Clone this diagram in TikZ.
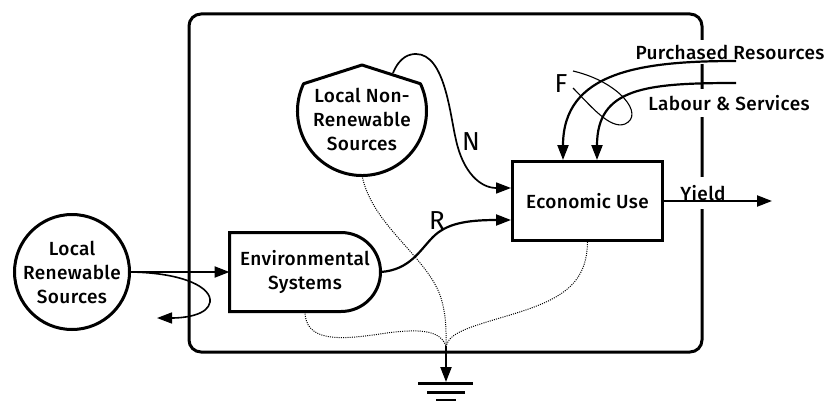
\documentclass[tikz,border=0pt]{standalone}
\usepackage{fontspec}
\setmainfont{Fira Sans Medium}[LetterSpace=2]
\newfontfamily\labelfont{Fira Sans}
\usetikzlibrary{arrows.meta,calc}
\begin{document}
\begin{tikzpicture}[x=1pt,y=-1pt,
  lbl/.style={font=\fontsize{19}{24}\selectfont, inner sep=0pt, align=center},
  big/.style={font=\labelfont\fontsize{26}{30}\selectfont, inner sep=0pt},
  boxline/.style={draw, line width=3pt},
  flow/.style={line width=2.2pt, -{Triangle[length=15pt,width=11pt]}},
  thinflow/.style={line width=1.7pt, -{Triangle[length=15pt,width=11pt]}},
  loopline/.style={line width=1.6pt, -{Triangle[length=15pt,width=11pt]}},
  heat/.style={line width=1pt, dash pattern=on 1pt off 1.2pt},
  cover/.style={fill=white, inner xsep=3pt, font=\fontsize{19}{24}\selectfont},
  bar/.style={line width=3pt}
]
\useasboundingbox (0,0) rectangle (832,401);
% system boundary
\draw[line width=3pt, rounded corners=12pt] (189,14) rectangle (702,352);
% texts that break the boundary
\node[cover, inner ysep=5pt] (pr) at (730,52) {Purchased Resources};
\node[cover, inner ysep=6.5pt] (ls) at (729,103) {Labour \& Services};
\node[cover, inner ysep=8pt] (yl) at (703,193) {Yield};
% local renewable sources
\node[circle, boxline, minimum size=115pt, inner sep=0pt] (lrs) at (72,272) {};
\node[lbl] (lrsT) at (lrs.center) {Local\\Renewable\\Sources};
% environmental systems
\node[rectangle, minimum width=151pt, minimum height=79pt, outer sep=0pt, lbl] (env) at (305,272) {Environmental\\Systems};
\draw[line width=3pt] (env.north west) -- ($(env.north east)+(-39.5,0)$)
  arc[start angle=90, end angle=-90, radius=39.5pt] -- (env.south west) -- cycle;
% local non-renewable sources
\node[circle, minimum size=129pt, inner sep=0pt, outer sep=0pt] (nrs) at (362,111) {};
\draw[line width=3pt, line join=round] (nrs.155) arc[start angle=155, end angle=385, radius=64.5pt]
  -- ($(nrs.center)+(0,-46)$) -- cycle;
\node[lbl] (nrsT) at (362,119) {Local Non-\\Renewable\\Sources};
% economic use
\node[rectangle, boxline, minimum width=150pt, minimum height=79pt, lbl] (eco) at (587.5,201) {Economic Use};
% free ends
\coordinate (nStart) at (393,73);
\coordinate (loopEnd) at (157,318);
\coordinate (prStart) at (736,61);
\coordinate (lsStart) at (736,83);
\coordinate (yEnd) at (772,201);
\coordinate (sink) at (446,346);
\coordinate (gnd) at (446,382);
% flows
\draw[flow] (lrs.east) -- (env.west);
\draw[loopline] (lrs.east) .. controls (185,273) and (212,288) .. (210,302)
  .. controls (208,315) and (185,318) .. (loopEnd);
\draw[thinflow] (nStart) .. controls (400,56) and (410,54) .. (416,54)
  .. controls (445,54) and (450,115) .. (456,140)
  .. controls (463,172) and (480,188) .. ($(eco.west)+(0,-13)$);
\draw[flow] (env.east) .. controls (410,270) and (420,250) .. (433,237)
  .. controls (446,224) and (465,220) .. ($(eco.west)+(0,19)$);
\draw[flow] (prStart) .. controls (640,61) and (563,72) .. ($(eco.north)+(-24.5,0)$);
\draw[flow] (lsStart) .. controls (645,83) and (597,88) .. ($(eco.north)+(9.5,0)$);
\draw[line width=1.1pt] (573,71) .. controls (620,82) and (645,115) .. (625,124)
  .. controls (610,130) and (590,105) .. (573,88);
\draw[flow] (eco.east) -- (yEnd);
% heat sink
\draw[heat] (nrs.south) .. controls (372,225) and (425,255) .. (440,295)
  .. controls (447,315) and (446,335) .. (sink);
\draw[heat] (env.south) .. controls (305,342) and (340,340) .. (380,334)
  .. controls (420,328) and (440,330) .. (sink);
\draw[heat] (eco.south) .. controls (587,285) and (560,300) .. (510,315)
  .. controls (470,327) and (450,332) .. (sink);
\draw[flow] (sink) -- (gnd);
\draw[bar] (418,383.5) -- (473,383.5);
\draw[bar] (427,392) -- (465,392);
\draw[bar] (436,400.5) -- (456,400.5);
% labels
\node[big] (nL) at (471,142) {N};
\node[big] (rL) at (437,221) {R};
\node[big] (fL) at (561,84) {F};
\end{tikzpicture}
\end{document}
